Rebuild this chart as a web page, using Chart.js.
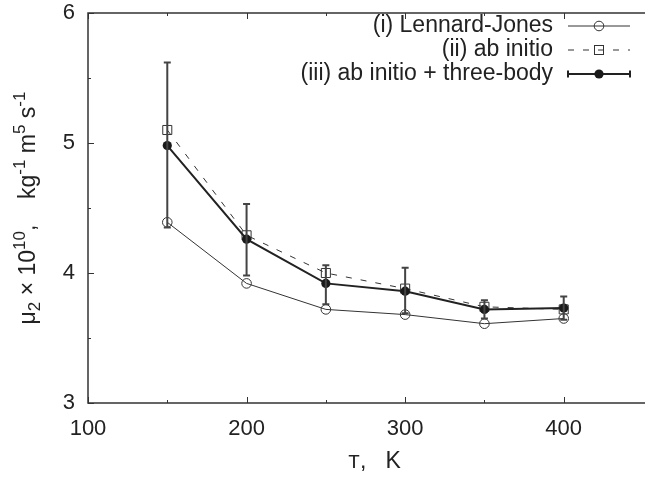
<!DOCTYPE html>
<html>
<head>
<meta charset="utf-8">
<script src="https://cdn.jsdelivr.net/npm/chart.js@4/dist/chart.umd.min.js"></script>
<style>
  html, body { margin: 0; padding: 0; background: #fff; }
  canvas { display: block; }
</style>
</head>
<body>
<canvas id="chart" width="656" height="477"></canvas>
<script>
// values (mu2 x 1e10 vs T)
const temperatures = [150, 200, 250, 300, 350, 400];
const lennardJones = [4.39, 3.92, 3.72, 3.68, 3.61, 3.65];
const abInitio = [5.10, 4.29, 4.00, 3.88, 3.74, 3.72];
const threeBody = [4.98, 4.26, 3.92, 3.86, 3.72, 3.73];
const threeBodyLow = [4.35, 3.98, 3.76, 3.69, 3.65, 3.64];
const threeBodyHigh = [5.62, 4.53, 4.06, 4.04, 3.79, 3.82];
const seriesLabels = ['(i) Lennard-Jones', '(ii) ab initio', '(iii) ab initio + three-body'];
const xTickLabels = [100, 200, 300, 400];
const xMinorTicks = [150, 250, 350];
const yTickLabels = [3, 4, 5, 6];
const yMinorTicks = [3.5, 4.5, 5.5];
const xRange = [100, 450];
const yRange = [3, 6];
// y title pieces: shift 1 = subscript, -1 = superscript
const yTitleParts = [
    ['μ', 0], ['2', 1], [' × 10', 0], ['10', -1], [',    kg', 0], ['-1', -1],
    [' m', 0], ['5', -1], [' s', 0], ['-1', -1]
];

const ink = '#222';
const sans = 'Liberation Sans, Arial, Helvetica, sans-serif';
const mono = 'Liberation Mono, Courier New, monospace';

const toPoints = ys => temperatures.map((t, i) => ({ x: t, y: ys[i] }));
const isLabelled = (list, v) => list.some(t => Math.abs(t - v) < 1e-6);

// frame and inward ticks, gnuplot style
const frameTicks = {
    id: 'frameTicks',
    afterDraw(chart) {
        const { ctx, chartArea: a, scales: { x, y } } = chart;
        ctx.save();
        ctx.strokeStyle = '#333';
        ctx.lineWidth = 1.5;
        ctx.beginPath();
        ctx.moveTo(a.right + 2, a.top);
        ctx.lineTo(a.left, a.top);
        ctx.lineTo(a.left, a.bottom);
        ctx.lineTo(a.right + 2, a.bottom);
        ctx.stroke();

        ctx.lineWidth = 1;
        ctx.beginPath();
        const xt = (v, len) => {
            const px = Math.round(x.getPixelForValue(v)) + 0.5;
            ctx.moveTo(px, a.bottom); ctx.lineTo(px, a.bottom - len);
            ctx.moveTo(px, a.top); ctx.lineTo(px, a.top + len);
        };
        const yt = (v, len) => {
            const py = Math.round(y.getPixelForValue(v)) + 0.5;
            ctx.moveTo(a.left, py); ctx.lineTo(a.left + len, py);
        };
        xTickLabels.forEach(v => xt(v, 6));
        xMinorTicks.forEach(v => xt(v, 3));
        yTickLabels.forEach(v => yt(v, 6));
        yMinorTicks.forEach(v => yt(v, 3));
        ctx.stroke();
        ctx.restore();
    }
};

// error bars on series (iii)
const errorBars = {
    id: 'errorBars',
    afterDatasetsDraw(chart) {
        const { ctx, scales: { x, y } } = chart;
        ctx.save();
        ctx.strokeStyle = '#444';
        ctx.lineWidth = 2;
        ctx.beginPath();
        temperatures.forEach((t, i) => {
            const px = x.getPixelForValue(t);
            const lo = y.getPixelForValue(threeBodyLow[i]);
            const hi = y.getPixelForValue(threeBodyHigh[i]);
            ctx.moveTo(px, lo); ctx.lineTo(px, hi);
            ctx.moveTo(px - 3.5, lo); ctx.lineTo(px + 3.5, lo);
            ctx.moveTo(px - 3.5, hi); ctx.lineTo(px + 3.5, hi);
        });
        ctx.stroke();
        ctx.restore();
    }
};

// axis titles with sub/superscripts and the typewriter T
const axisTitles = {
    id: 'axisTitles',
    afterDraw(chart) {
        const { ctx, chartArea: a } = chart;
        ctx.save();
        ctx.fillStyle = ink;
        ctx.textBaseline = 'alphabetic';
        ctx.textAlign = 'left';

        // y title, rotated
        const big = '23px ' + sans, small = '17px ' + sans;
        let total = 0;
        yTitleParts.forEach(([t, s]) => {
            ctx.font = s ? small : big;
            total += ctx.measureText(t).width;
        });
        ctx.translate(35, (a.top + a.bottom) / 2);
        ctx.rotate(-Math.PI / 2);
        let pos = -total / 2;
        yTitleParts.forEach(([t, s]) => {
            ctx.font = s ? small : big;
            ctx.fillText(t, pos, s > 0 ? 5 : s < 0 ? -10 : 0);
            pos += ctx.measureText(t).width;
        });
        ctx.setTransform(1, 0, 0, 1, 0, 0);

        // x title
        ctx.font = '20px ' + mono;
        ctx.fillText('T', 348, 468);
        const tw = ctx.measureText('T').width;
        ctx.font = '23px ' + sans;
        ctx.fillText(',   K', 348 + tw, 468);
        ctx.restore();
    }
};

// key in the top right corner: text right-aligned, sample to the right
const keyBox = {
    id: 'keyBox',
    afterDraw(chart) {
        const { ctx } = chart;
        const rows = [26, 50, 74];
        const textRight = 553, x0 = 568, x1 = 630, xm = 599;
        ctx.save();
        ctx.font = '23px ' + sans;
        ctx.fillStyle = ink;
        ctx.textAlign = 'right';
        ctx.textBaseline = 'middle';
        seriesLabels.forEach((label, i) => ctx.fillText(label, textRight, rows[i]));

        // (i)
        ctx.strokeStyle = '#333';
        ctx.lineWidth = 1;
        ctx.beginPath();
        ctx.moveTo(x0, rows[0]); ctx.lineTo(x1, rows[0]);
        ctx.stroke();
        ctx.beginPath();
        ctx.arc(xm, rows[0], 4.8, 0, Math.PI * 2);
        ctx.stroke();

        // (ii)
        ctx.setLineDash([6, 9]);
        ctx.beginPath();
        ctx.moveTo(x0, rows[1]); ctx.lineTo(x1, rows[1]);
        ctx.stroke();
        ctx.setLineDash([]);
        ctx.strokeRect(xm - 4.5, rows[1] - 4.5, 9, 9);

        // (iii)
        ctx.strokeStyle = '#222';
        ctx.lineWidth = 2;
        ctx.beginPath();
        ctx.moveTo(x0, rows[2]); ctx.lineTo(x1, rows[2]);
        ctx.moveTo(x0, rows[2] - 3.5); ctx.lineTo(x0, rows[2] + 3.5);
        ctx.moveTo(x1, rows[2] - 3.5); ctx.lineTo(x1, rows[2] + 3.5);
        ctx.stroke();
        ctx.fillStyle = '#1a1a1a';
        ctx.beginPath();
        ctx.arc(xm, rows[2], 4.6, 0, Math.PI * 2);
        ctx.fill();
        ctx.restore();
    }
};

new Chart(document.getElementById('chart'), {
    type: 'line',
    data: {
        datasets: [{
            label: seriesLabels[0],
            data: toPoints(lennardJones),
            borderColor: '#333',
            borderWidth: 1,
            pointStyle: 'circle',
            pointRadius: 4.8,
            pointBorderWidth: 1,
            pointBorderColor: '#333',
            pointBackgroundColor: 'rgba(0,0,0,0)',
            order: 3
        }, {
            label: seriesLabels[1],
            data: toPoints(abInitio),
            borderColor: '#333',
            borderWidth: 1,
            borderDash: [6, 9],
            pointStyle: 'rect',
            pointRadius: 6.4,
            pointBorderWidth: 1,
            pointBorderColor: '#333',
            pointBackgroundColor: 'rgba(0,0,0,0)',
            order: 2
        }, {
            label: seriesLabels[2],
            data: toPoints(threeBody),
            borderColor: '#222',
            borderWidth: 2,
            pointStyle: 'circle',
            pointRadius: 4.6,
            pointBorderWidth: 0,
            pointBackgroundColor: '#1a1a1a',
            order: 1
        }]
    },
    options: {
        responsive: false,
        animation: false,
        devicePixelRatio: 1,
        layout: { padding: { top: 13, right: 0, bottom: 0, left: 0 } },
        plugins: {
            legend: { display: false },
            tooltip: { enabled: false }
        },
        scales: {
            x: {
                type: 'linear',
                min: xRange[0],
                max: xRange[1],
                afterFit: s => { s.height = 74; },
                grid: { display: false, drawTicks: false },
                border: { display: false },
                ticks: {
                    stepSize: 50,
                    autoSkip: false,
                    maxRotation: 0,
                    padding: 13,
                    color: ink,
                    font: { family: sans, size: 22 },
                    callback: v => isLabelled(xTickLabels, v) ? String(v) : ''
                }
            },
            y: {
                min: yRange[0],
                max: yRange[1],
                afterFit: s => {
                    s.width = 88;
                    s.paddingTop = 0;
                    s.paddingBottom = 0;
                },
                grid: { display: false, drawTicks: false },
                border: { display: false },
                ticks: {
                    stepSize: 1,
                    padding: 13,
                    color: ink,
                    font: { family: sans, size: 22 },
                    callback: v => isLabelled(yTickLabels, v) ? String(v) : ''
                }
            }
        }
    },
    plugins: [frameTicks, errorBars, axisTitles, keyBox]
});
</script>
</body>
</html>
